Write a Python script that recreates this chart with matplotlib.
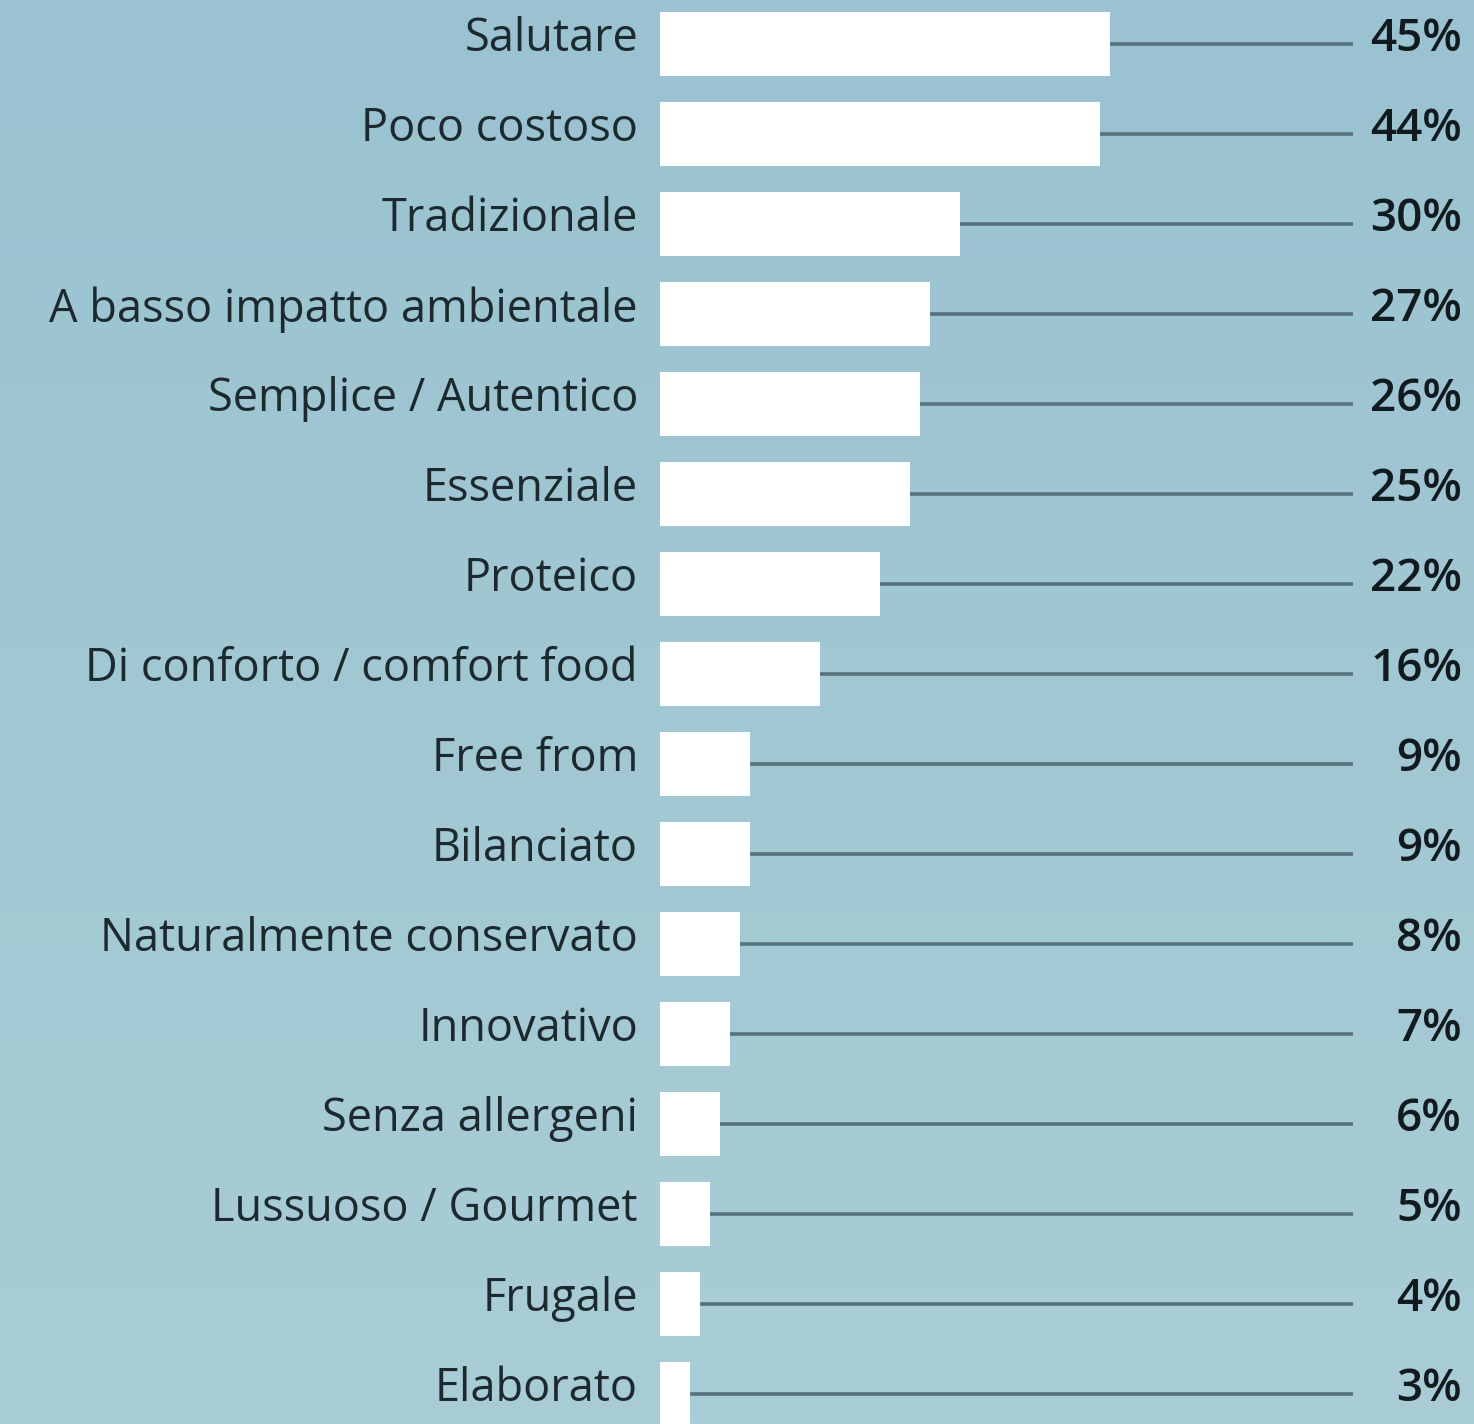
import matplotlib
matplotlib.use("Agg")
import matplotlib.pyplot as plt
import numpy as np
from matplotlib.colors import LinearSegmentedColormap

categories = ["Salutare", "Poco costoso", "Tradizionale", "A basso impatto ambientale",
              "Semplice / Autentico", "Essenziale", "Proteico", "Di conforto / comfort food",
              "Free from", "Bilanciato", "Naturalmente conservato", "Innovativo",
              "Senza allergeni", "Lussuoso / Gourmet", "Frugale", "Elaborato"]
values = [45, 44, 30, 27, 26, 25, 22, 16, 9, 9, 8, 7, 6, 5, 4, 3]
labels = [f"{v}%" for v in values]

W, H = 1474, 1424
fig = plt.figure(figsize=(W / 100, H / 100), dpi=100)

# background gradient
bg = fig.add_axes([0, 0, 1, 1])
bg.set_axis_off()
cmap = LinearSegmentedColormap.from_list("bg", ["#9ac2d0", "#a9cdd6"])
bg.imshow(np.linspace(0, 1, 256).reshape(-1, 1), aspect="auto", cmap=cmap,
          extent=[0, 1, 0, 1], origin="upper")
bg.set_xlim(0, 1); bg.set_ylim(0, 1)

ax = fig.add_axes([0, 0, 1, 1])
ax.set_axis_off()
ax.patch.set_alpha(0)
ax.set_xlim(-66, 81.4)
ax.set_ylim((H - 44) / 90, -44 / 90)

y = np.arange(len(categories))
line_end = 69.3
for yi, v in zip(y, values):
    ax.plot([v, line_end], [yi, yi], color="#56727c", lw=2.6, solid_capstyle="butt", zorder=1)
ax.barh(y, values, height=0.71, color="#ffffff", zorder=2)

font = "Open Sans"
for yi, c, lab in zip(y, categories, labels):
    ax.text(-2.2, yi - 0.05, c, ha="right", va="center", fontsize=32.5, color="#1c2a30",
            family=font)
    ax.text(80.2, yi - 0.05, lab, ha="right", va="center", fontsize=33, color="#111a1e",
            family=font, fontweight="semibold")

fig.savefig("out.png", dpi=100)
